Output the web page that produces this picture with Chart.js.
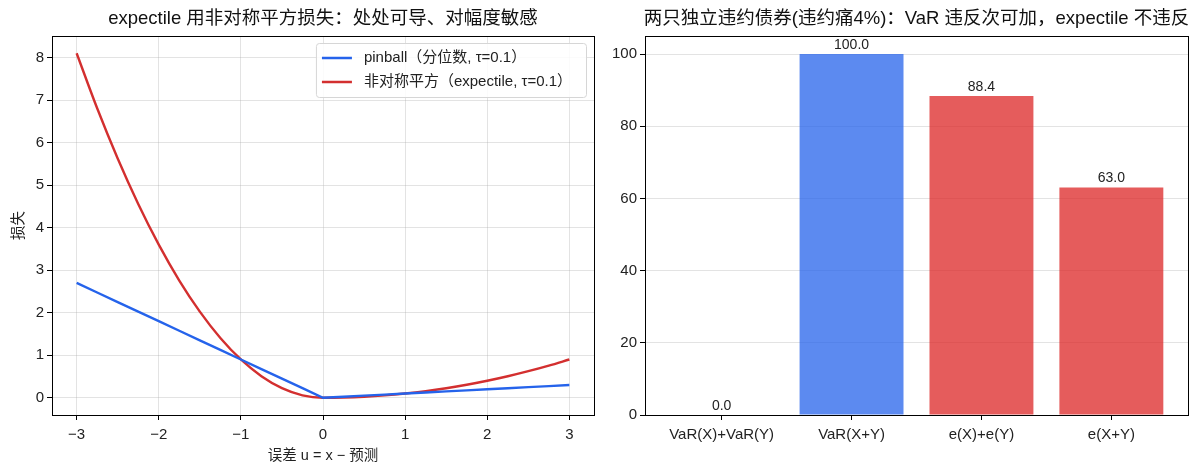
<!DOCTYPE html>
<html>
<head>
<meta charset="utf-8">
<script src="https://cdn.jsdelivr.net/npm/chart.js@4"></script>
<style>
  body { margin: 0; background: #fff; }
  .panel { position: absolute; top: 0; }
</style>
</head>
<body>
<div class="panel" style="left:0"><canvas id="lossChart" width="600" height="473"></canvas></div>
<div class="panel" style="left:600px"><canvas id="barChart" width="599" height="473"></canvas></div>
<script>
// error u = x - prediction
const errU = [-3, -2.75, -2.5, -2.25, -2, -1.75, -1.5, -1.25, -1, -0.75, -0.5, -0.25, 0,
              0.25, 0.5, 0.75, 1, 1.25, 1.5, 1.75, 2, 2.25, 2.5, 2.75, 3];
const pinballLoss = [2.7, 2.475, 2.25, 2.025, 1.8, 1.575, 1.35, 1.125, 0.9, 0.675, 0.45, 0.225, 0,
                     0.025, 0.05, 0.075, 0.1, 0.125, 0.15, 0.175, 0.2, 0.225, 0.25, 0.275, 0.3];
const expectileLoss = [8.1, 6.806, 5.625, 4.556, 3.6, 2.756, 2.025, 1.406, 0.9, 0.506, 0.225, 0.056, 0,
                       0.006, 0.025, 0.056, 0.1, 0.156, 0.225, 0.306, 0.4, 0.506, 0.625, 0.756, 0.9];

// right panel
const barLabels = ['VaR(X)+VaR(Y)', 'VaR(X+Y)', 'e(X)+e(Y)', 'e(X+Y)'];
const barValues = [0.0, 100.0, 88.4, 63.0];

const FONT = '"Liberation Sans", "Noto Sans CJK SC", sans-serif';
const gridColor = 'rgba(176,176,176,0.35)';
const minus = v => String(v).replace('-', '\u2212');

Chart.defaults.font.family = FONT;
Chart.defaults.color = '#222';
Chart.defaults.animation = false;

// black box around the plot area, like matplotlib spines
const frame = {
    id: 'frame',
    afterDraw(chart) {
        const a = chart.chartArea, ctx = chart.ctx;
        ctx.save();
        ctx.strokeStyle = '#000';
        ctx.lineWidth = 1;
        ctx.strokeRect(Math.round(a.left) + 0.5, Math.round(a.top) + 0.5,
                       Math.round(a.right - a.left), Math.round(a.bottom - a.top));
        ctx.restore();
    }
};

// title centred over the plot area (not the canvas)
const axTitle = {
    id: 'axTitle',
    afterDraw(chart, args, opts) {
        const a = chart.chartArea, ctx = chart.ctx;
        ctx.save();
        ctx.font = '18.5px ' + FONT;
        ctx.fillStyle = '#111';
        ctx.textAlign = 'center';
        ctx.textBaseline = 'middle';
        ctx.fillText(opts.text, (a.left + a.right) / 2, 19);
        ctx.restore();
    }
};

// legend box in the upper right corner of the plot area
const boxLegend = {
    id: 'boxLegend',
    afterDraw(chart) {
        const a = chart.chartArea, ctx = chart.ctx;
        const sets = chart.data.datasets;
        ctx.save();
        ctx.font = '15px ' + FONT;
        let w = 0;
        sets.forEach(ds => { w = Math.max(w, ctx.measureText(ds.label).width); });
        const bw = w + 62, bh = 6 + sets.length * 24;
        const x0 = a.right - bw - 8, y0 = a.top + 7;
        ctx.fillStyle = 'rgba(255,255,255,0.85)';
        ctx.strokeStyle = '#d6d6d6';
        ctx.beginPath();
        ctx.roundRect(x0 + 0.5, y0 + 0.5, bw, bh, 3);
        ctx.fill();
        ctx.stroke();
        sets.forEach((ds, i) => {
            const y = y0 + 15 + i * 24;
            ctx.strokeStyle = ds.borderColor;
            ctx.lineWidth = 2.5;
            ctx.beginPath();
            ctx.moveTo(x0 + 6, y);
            ctx.lineTo(x0 + 36, y);
            ctx.stroke();
            ctx.fillStyle = '#222';
            ctx.textBaseline = 'middle';
            ctx.fillText(ds.label, x0 + 48, y);
        });
        ctx.restore();
    }
};

// value labels above the bars
const barValueLabels = {
    id: 'barValueLabels',
    afterDatasetsDraw(chart) {
        const ctx = chart.ctx;
        const meta = chart.getDatasetMeta(0);
        ctx.save();
        ctx.font = '14px ' + FONT;
        ctx.fillStyle = '#222';
        ctx.textAlign = 'center';
        ctx.textBaseline = 'bottom';
        meta.data.forEach((bar, i) => {
            ctx.fillText(barValues[i].toFixed(1), bar.x, bar.y - 2);
        });
        ctx.restore();
    }
};

const lossCtx = document.getElementById('lossChart').getContext('2d');
new Chart(lossCtx, {
    type: 'line',
    data: {
        labels: errU,
        datasets: [{
            label: 'pinball（分位数, τ=0.1）',
            data: errU.map((u, i) => ({ x: u, y: pinballLoss[i] })),
            borderColor: '#2563eb',
            borderWidth: 2.4,
            pointRadius: 0,
            tension: 0
        }, {
            label: '非对称平方（expectile, τ=0.1）',
            data: errU.map((u, i) => ({ x: u, y: expectileLoss[i] })),
            borderColor: '#d32f2f',
            borderWidth: 2.4,
            pointRadius: 0,
            cubicInterpolationMode: 'monotone'
        }]
    },
    options: {
        responsive: false,
        layout: { padding: { top: 36, right: 6 } },
        plugins: {
            legend: { display: false },
            title: { display: false },
            axTitle: { text: 'expectile 用非对称平方损失：处处可导、对幅度敏感' },
            tooltip: { enabled: false }
        },
        scales: {
            x: {
                type: 'linear',
                min: -3.3, max: 3.3,
                afterFit(s) { s.height = 58; },
                ticks: { stepSize: 1, includeBounds: false, font: { size: 15 }, color: '#222',
                         padding: 6, callback: v => minus(v) },
                grid: { color: gridColor, tickColor: '#000', tickLength: 5 },
                border: { color: '#000' },
                title: { display: true, text: '误差 u = x − 预测', font: { size: 14.5 }, color: '#222',
                         padding: { top: 2, bottom: 8 } }
            },
            y: {
                min: -0.405, max: 8.505,
                afterFit(s) { s.width = 52; },
                ticks: { stepSize: 1, includeBounds: false, font: { size: 15 }, color: '#222',
                         callback: v => minus(v) },
                grid: { color: gridColor, tickColor: '#000', tickLength: 5 },
                border: { color: '#000' },
                title: { display: true, text: '损失', font: { size: 14.5 }, color: '#222',
                         padding: { top: 10, bottom: 0 } }
            }
        }
    },
    plugins: [frame, axTitle, boxLegend]
});

const barCtx = document.getElementById('barChart').getContext('2d');
new Chart(barCtx, {
    type: 'bar',
    data: {
        datasets: [{
            data: barValues.map((v, i) => ({ x: i, y: v })),
            backgroundColor: ['rgba(37,99,235,0.75)', 'rgba(37,99,235,0.75)',
                              'rgba(220,38,38,0.75)', 'rgba(220,38,38,0.75)'],
            categoryPercentage: 1.0,
            barPercentage: 0.8
        }]
    },
    options: {
        responsive: false,
        layout: { padding: { top: 36, right: 11 } },
        plugins: {
            legend: { display: false },
            title: { display: false },
            axTitle: { text: '两只独立违约债券(违约痛4%)：VaR 违反次可加，expectile 不违反' },
            tooltip: { enabled: false }
        },
        scales: {
            x: {
                type: 'linear',
                offset: false,
                min: -0.59, max: 3.59,
                afterFit(s) { s.height = 58; },
                ticks: { stepSize: 1, includeBounds: false, font: { size: 15 }, color: '#222',
                         padding: 6, callback: v => barLabels[v] ?? '' },
                grid: { offset: false, drawOnChartArea: false, tickColor: '#000', tickLength: 5 },
                border: { color: '#000' }
            },
            y: {
                min: 0, max: 105,
                afterFit(s) { s.width = 45; },
                ticks: { stepSize: 20, includeBounds: false, font: { size: 15 }, color: '#222' },
                grid: { color: gridColor, tickColor: '#000', tickLength: 5 },
                border: { color: '#000' }
            }
        }
    },
    plugins: [frame, axTitle, barValueLabels]
});
</script>
</body>
</html>
